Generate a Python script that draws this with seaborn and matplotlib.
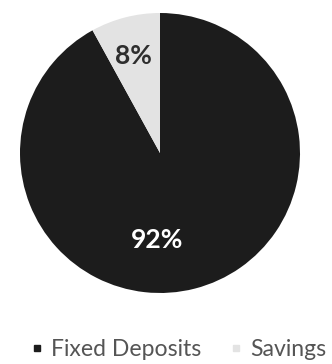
import matplotlib
matplotlib.use("Agg")
import matplotlib.pyplot as plt
from matplotlib.lines import Line2D
import seaborn as sns

sns.set_theme(style="white")
plt.rcParams["font.family"] = ["Lato", "DejaVu Sans"]

categories = ["Fixed Deposits", "Savings"]
shares = [92, 8]
colors = ["#1c1c1c", "#e3e3e3"]
label_colors = ["#ffffff", "#2e2e2e"]

W, H = 332, 364
fig = plt.figure(figsize=(W / 100, H / 100), dpi=100)
fig.patch.set_facecolor("white")

# pie centred at (160, 153) px with a 140 px radius
cx, cy, r = 160, 153, 140
ax = fig.add_axes([(cx - r) / W, (H - cy - r) / H, 2 * r / W, 2 * r / H])
wedges, _ = ax.pie(shares, colors=colors, startangle=90, counterclock=False,
                   radius=1.0, wedgeprops=dict(linewidth=0))
ax.set_xlim(-1, 1)
ax.set_ylim(-1, 1)
ax.set_aspect("equal")
ax.axis("off")

# percentage labels
label_pos = [(-0.02, -0.62), (-0.19, 0.69)]
for val, (x, y), c in zip(shares, label_pos, label_colors):
    ax.text(x, y, f"{val}%", ha="center", va="center", fontsize=19,
            fontweight="bold", color=c)

handles = [Line2D([0], [0], marker="s", linestyle="none", markersize=5,
                  markerfacecolor=col, markeredgecolor=col) for col in colors]
fig.legend(handles, categories, loc="center", bbox_to_anchor=(0.538, 0.041),
           ncol=2, frameon=False, fontsize=16.6, labelcolor="#555555",
           handlelength=0.5, handletextpad=0.36, columnspacing=1.25,
           borderpad=0, borderaxespad=0)

fig.savefig("out.png", dpi=100, facecolor="white")
